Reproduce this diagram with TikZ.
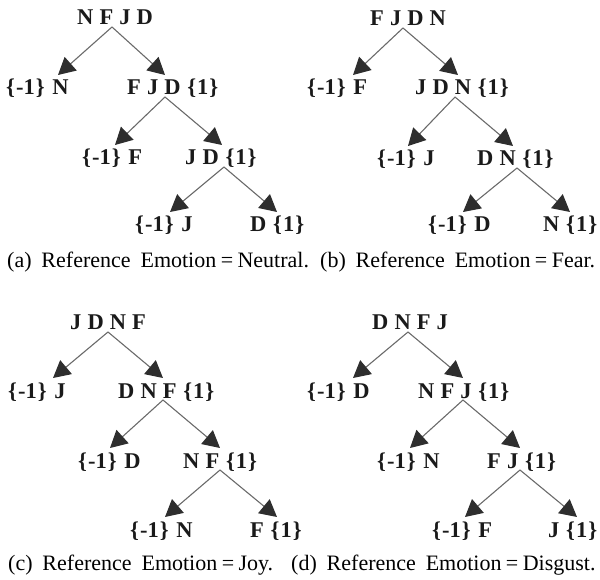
\documentclass[tikz,border=0pt]{standalone}
\usepackage{fontspec}
\setmainfont{Liberation Serif}
\usetikzlibrary{arrows.meta,calc}
\definecolor{linegray}{HTML}{6A6A6A}
\definecolor{headgray}{HTML}{2E2E2E}
\definecolor{txt}{HTML}{1A1A1A}
\newcommand\negone{\{\kern1pt-1\kern1pt\}\hspace{0.34em}}
\newcommand\posone{\hspace{0.3em}\{\kern1pt1\kern1pt\}}
\newcommand\gp{\hspace{0.27em}}
\newcommand\eqs{\hspace{0.2em}=\hspace{0.2em}}
\tikzset{
  lbl/.style={anchor=base west, inner sep=0pt, text=txt,
    font=\fontsize{22.5}{25}\selectfont\bfseries},
  captxt/.style={anchor=base west, inner sep=0pt, text=black,
    font=\fontsize{22}{25}\selectfont},
  arr/.style={draw=linegray, line width=1.1pt,
    -{Triangle[length=17pt,width=18pt,color=headgray]}}
}
\begin{document}
\begin{tikzpicture}[x=1pt,y=-1pt]
\useasboundingbox (0,0) rectangle (600,580);
% ---------- (a)
\node[lbl] (ra)  at (77,25)   {N\gp F\gp J\gp D};
\node[lbl] (a1l) at (6,95)    {\negone N};
\node[lbl] (a1r) at (127,95)  {F\gp J\gp D\posone};
\node[lbl] (a2l) at (82,165)  {\negone F};
\node[lbl] (a2r) at (185,165) {J\gp D\posone};
\node[lbl] (a3l) at (135,232) {\negone J};
\node[lbl] (a3r) at (250,232) {D\posone};
\draw[arr] ($(ra.base west)+(35,2)$)  -- ($(a1l.base west)+(52,-20)$);
\draw[arr] ($(ra.base west)+(35,2)$)  -- ($(a1r.base west)+(38,-20)$);
\draw[arr] ($(a1r.base west)+(38,2)$) -- ($(a2l.base west)+(33,-20)$);
\draw[arr] ($(a1r.base west)+(38,2)$) -- ($(a2r.base west)+(37,-20)$);
\draw[arr] ($(a2r.base west)+(39,2)$) -- ($(a3l.base west)+(35,-20)$);
\draw[arr] ($(a2r.base west)+(39,2)$) -- ($(a3r.base west)+(27,-20)$);
\node[captxt] (capa) at (7,268) {(a)\hspace{0.45em}Reference\hspace{0.45em}Emotion\eqs Neutral.};
% ---------- (b)
\node[lbl] (rb)  at (370,26)  {F\gp J\gp D\gp N};
\node[lbl] (b1l) at (307,95)  {\negone F};
\node[lbl] (b1r) at (415,95)  {J\gp D\gp N\posone};
\node[lbl] (b2l) at (377,166) {\negone J};
\node[lbl] (b2r) at (477,166) {D\gp N\posone};
\node[lbl] (b3l) at (428,232) {\negone D};
\node[lbl] (b3r) at (543,232) {N\posone};
\draw[arr] ($(rb.base west)+(33,2)$)  -- ($(b1l.base west)+(46,-20)$);
\draw[arr] ($(rb.base west)+(33,2)$)  -- ($(b1r.base west)+(43,-20)$);
\draw[arr] ($(b1r.base west)+(40,2)$) -- ($(b2l.base west)+(31,-20)$);
\draw[arr] ($(b1r.base west)+(40,2)$) -- ($(b2r.base west)+(36,-20)$);
\draw[arr] ($(b2r.base west)+(40,2)$) -- ($(b3l.base west)+(35,-20)$);
\draw[arr] ($(b2r.base west)+(40,2)$) -- ($(b3r.base west)+(27,-20)$);
\node[captxt] (capb) at (320,268) {(b)\hspace{0.45em}Reference\hspace{0.45em}Emotion\eqs Fear.};
% ---------- (c)
\node[lbl] (rc)  at (70,330)  {J\gp D\gp N\gp F};
\node[lbl] (c1l) at (8,398)   {\negone J};
\node[lbl] (c1r) at (118,398) {D\gp N\gp F\posone};
\node[lbl] (c2l) at (78,468)  {\negone D};
\node[lbl] (c2r) at (183,468) {N\gp F\posone};
\node[lbl] (c3l) at (130,537) {\negone N};
\node[lbl] (c3r) at (250,537) {F\posone};
\draw[arr] ($(rc.base west)+(38,2)$)  -- ($(c1l.base west)+(45,-20)$);
\draw[arr] ($(rc.base west)+(38,2)$)  -- ($(c1r.base west)+(45,-20)$);
\draw[arr] ($(c1r.base west)+(45,2)$) -- ($(c2l.base west)+(32,-20)$);
\draw[arr] ($(c1r.base west)+(45,2)$) -- ($(c2r.base west)+(37,-20)$);
\draw[arr] ($(c2r.base west)+(37,2)$) -- ($(c3l.base west)+(35,-20)$);
\draw[arr] ($(c2r.base west)+(37,2)$) -- ($(c3r.base west)+(27,-20)$);
\node[captxt] (capc) at (8,570) {(c)\hspace{0.45em}Reference\hspace{0.45em}Emotion\eqs Joy.};
% ---------- (d)
\node[lbl] (rd)  at (372,330) {D\gp N\gp F\gp J};
\node[lbl] (d1l) at (307,398) {\negone D};
\node[lbl] (d1r) at (418,398) {N\gp F\gp J\posone};
\node[lbl] (d2l) at (377,468) {\negone N};
\node[lbl] (d2r) at (487,468) {F\gp J\posone};
\node[lbl] (d3l) at (432,537) {\negone F};
\node[lbl] (d3r) at (548,537) {J\posone};
\draw[arr] ($(rd.base west)+(36,2)$)  -- ($(d1l.base west)+(46,-20)$);
\draw[arr] ($(rd.base west)+(36,2)$)  -- ($(d1r.base west)+(45,-20)$);
\draw[arr] ($(d1r.base west)+(45,2)$) -- ($(d2l.base west)+(33,-20)$);
\draw[arr] ($(d1r.base west)+(45,2)$) -- ($(d2r.base west)+(33,-20)$);
\draw[arr] ($(d2r.base west)+(33,2)$) -- ($(d3l.base west)+(33,-20)$);
\draw[arr] ($(d2r.base west)+(33,2)$) -- ($(d3r.base west)+(29,-20)$);
\node[captxt] (capd) at (291,570) {(d)\hspace{0.45em}Reference\hspace{0.45em}Emotion\eqs Disgust.};
\end{tikzpicture}
\end{document}
